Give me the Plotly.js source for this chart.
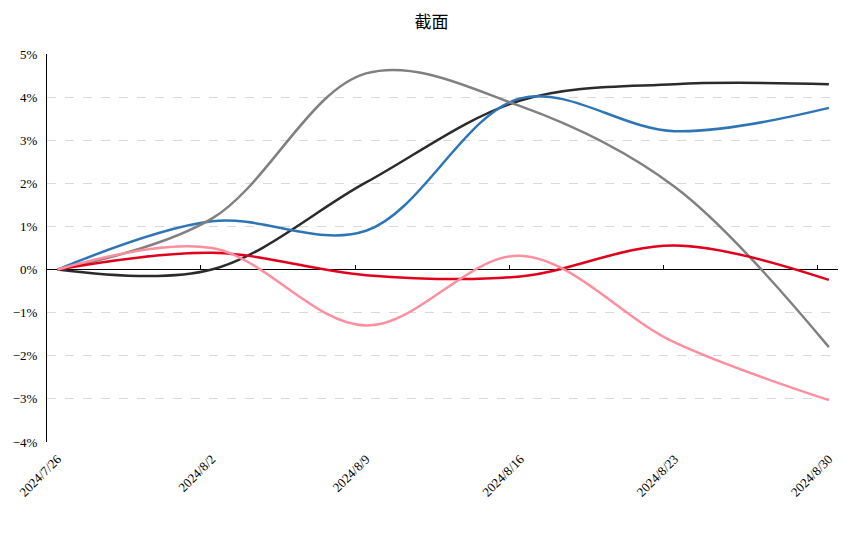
<!DOCTYPE html>
<html>
<head>
<meta charset="utf-8">
<script src="https://cdn.plot.ly/plotly-3.0.1.min.js"></script>
<style>
  html, body { margin: 0; padding: 0; background: #fff; }
  #chart { width: 868px; height: 533px; }
</style>
</head>
<body>
<div id="chart"></div>
<script>
// weekly dates
var dates = ["2024-07-26", "2024-08-02", "2024-08-09", "2024-08-16", "2024-08-23", "2024-08-30"];
var tickText = ["2024/7/26", "2024/8/2", "2024/8/9", "2024/8/16", "2024/8/23", "2024/8/30"];
// tick marks on the zero line sit between categories
var zeroTicks = ["2024-08-01 12:00", "2024-08-08 12:00", "2024-08-15 12:00", "2024-08-22 12:00", "2024-08-29 12:00"];

// values in %
var blackVals = [0, 0.0, 2.02, 3.92, 4.30, 4.30];
var blueVals = [0, 1.12, 0.90, 3.97, 3.21, 3.75];
var grayVals = [0, 1.18, 4.55, 3.79, 1.92, -1.80];
var redVals = [0, 0.39, -0.13, -0.16, 0.56, -0.24];
var pinkVals = [0, 0.50, -1.30, 0.32, -1.69, -3.03];

var series = [
  { y: blackVals, color: "#2b2b2b" },
  { y: blueVals, color: "#2e75b6" },
  { y: grayVals, color: "#808080" },
  { y: redVals, color: "#e0001b" },
  { y: pinkVals, color: "#ff8f9f" },
];

var traces = series.map(function (s) {
  return {
    x: dates,
    y: s.y.map(function (v) { return v / 100; }),
    type: "scatter",
    mode: "lines",
    line: { color: s.color, width: 2.5, shape: "spline", smoothing: 1 },
    hoverinfo: "skip",
  };
});
// dummy trace so the tick-mark axis gets drawn
traces.push({ x: [], y: [], xaxis: "x2", yaxis: "y", type: "scatter", mode: "lines", showlegend: false });

var xRange = ["2024-07-25 12:34", "2024-08-30 09:56"];
var serif = "Liberation Serif, Times New Roman, serif";

var layout = {
  width: 868,
  height: 533,
  margin: { l: 47, r: 30, t: 54, b: 91 },
  paper_bgcolor: "#fff",
  plot_bgcolor: "#fff",
  showlegend: false,
  title: {
    text: "截面",
    x: 0.497,
    xref: "container",
    y: 0.97,
    yref: "container",
    font: { family: "Noto Sans CJK SC", size: 17, color: "#000" },
  },
  xaxis: {
    type: "date",
    range: xRange,
    tickvals: dates,
    ticktext: tickText,
    tickangle: -45,
    ticks: "",
    showgrid: false,
    zeroline: false,
    showline: false,
    ticklabelstandoff: 6,
    tickfont: { family: serif, size: 13, color: "#000" },
  },
  xaxis2: {
    type: "date",
    overlaying: "x",
    anchor: "free",
    position: 4 / 9,
    side: "bottom",
    range: xRange,
    tickvals: zeroTicks,
    ticks: "inside",
    ticklen: 5,
    tickcolor: "#000",
    tickwidth: 1,
    showticklabels: false,
    showgrid: false,
    zeroline: false,
    showline: false,
  },
  yaxis: {
    range: [-0.04, 0.05],
    dtick: 0.01,
    tickformat: ".0%",
    showgrid: true,
    gridcolor: "#d9d9d9",
    griddash: "dash",
    gridwidth: 1,
    zeroline: true,
    zerolinecolor: "#000",
    zerolinewidth: 1,
    showline: true,
    linecolor: "#000",
    linewidth: 1,
    ticks: "",
    ticklabelstandoff: 6,
    tickfont: { family: serif, size: 13, color: "#000" },
  },
};

Plotly.newPlot("chart", traces, layout, { displayModeBar: false, staticPlot: true });
</script>
</body>
</html>
